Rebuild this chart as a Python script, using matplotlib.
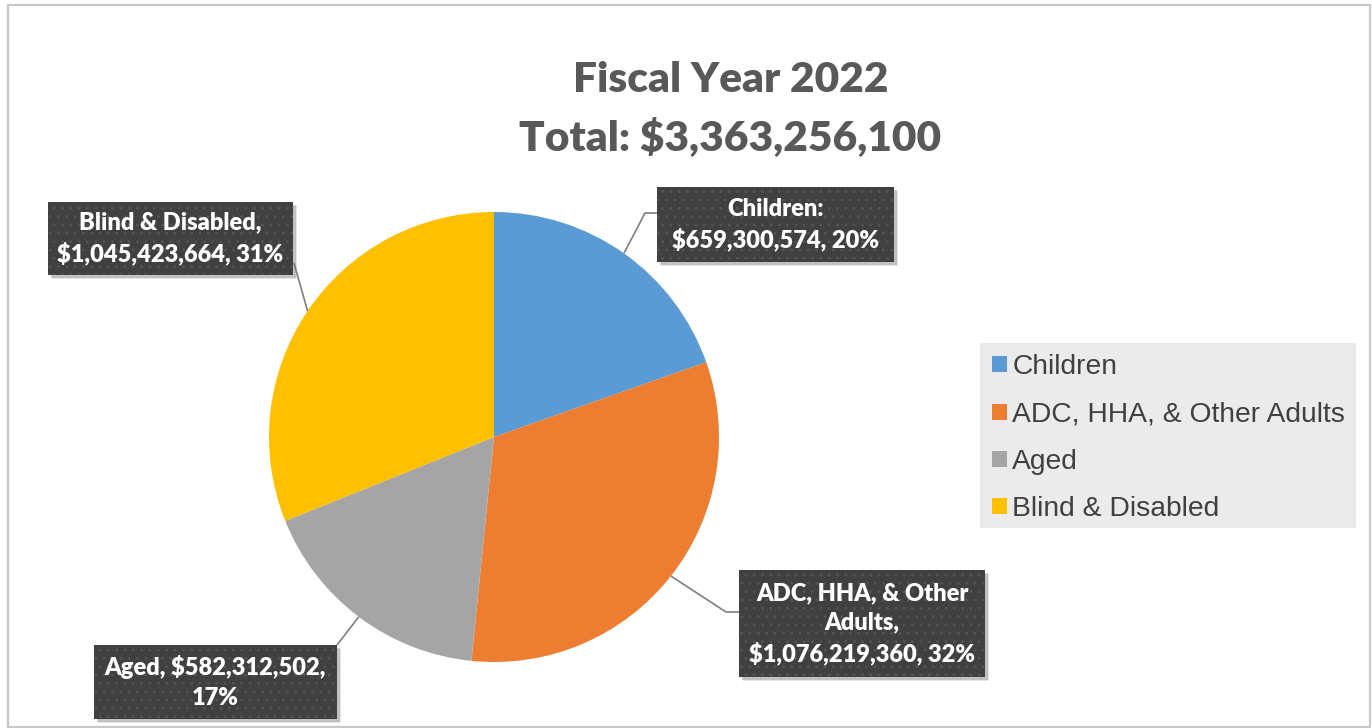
import numpy as np
import matplotlib.pyplot as plt
from matplotlib.patches import Rectangle, Patch

# ---- data ----
categories = ["Children", "ADC, HHA, & Other Adults", "Aged", "Blind & Disabled"]
amounts = [659300574, 1076219360, 582312502, 1045423664]
colors = ["#5b9bd5", "#ed7d31", "#a5a5a5", "#ffc000"]
label_texts = [
    "Children:\n$659,300,574, 20%",
    "ADC, HHA, & Other\nAdults,\n$1,076,219,360, 32%",
    "Aged, $582,312,502,\n17%",
    "Blind & Disabled,\n$1,045,423,664, 31%",
]

# ---- layout (pixel coords, y from top) ----
W, H = 1372, 728
CX, CY, R = 494, 437, 225
# label boxes: x0, y0, width, height
boxes = [(657, 187, 237, 75), (739, 570, 246, 107), (94, 645, 243, 74), (48, 202, 245, 73)]
# extra bend points of the leader lines, ending on the box
bends = [[(645, 213), (657, 213)], [(726, 612), (739, 612)], [(337, 645)], [(294, 263)]]

TITLE_FONT = ["Lato", "DejaVu Sans"]
plt.rcParams["hatch.linewidth"] = 0.8


def Y(py):
    return H - py


fig = plt.figure(figsize=(W / 100, H / 100), dpi=100)
ax = fig.add_axes([0, 0, 1, 1])

wedges, _ = ax.pie(amounts, colors=colors, startangle=90, counterclock=False,
                   center=(CX, Y(CY)), radius=R, wedgeprops={"linewidth": 0})
ax.set_xlim(0, W)
ax.set_ylim(0, H)
ax.set_aspect("equal")
ax.axis("off")

# outer chart border
ax.add_patch(Rectangle((8, Y(727)), 1362, 722, fill=False, edgecolor="#c8c8c8", lw=1.6))

# title
total = sum(amounts)
ax.text(731, Y(80), "Fiscal Year 2022", ha="center", va="center", fontsize=30.5,
        fontweight="heavy", color="#595959", family=TITLE_FONT)
ax.text(730, Y(138), f"Total: ${total:,}", ha="center", va="center", fontsize=30.5,
        fontweight="heavy", color="#595959", family=TITLE_FONT)

# data labels with leader lines
for w, txt, (bx, by, bw, bh), pts in zip(wedges, label_texts, boxes, bends):
    mid = np.deg2rad((w.theta1 + w.theta2) / 2)
    x0 = CX + R * np.cos(mid)
    y0 = Y(CY) + R * np.sin(mid)
    xs = [x0] + [p[0] for p in pts]
    ys = [y0] + [Y(p[1]) for p in pts]
    ax.plot(xs, ys, color="#7f7f7f", lw=1.2, solid_capstyle="butt", zorder=2)

    # soft shadow below-right
    for off, a in [(4, 0.18), (2.5, 0.3)]:
        ax.add_patch(Rectangle((bx + off, Y(by + bh) - off), bw, bh, facecolor="#707070",
                               edgecolor="none", alpha=a, zorder=2.5))
    ax.add_patch(Rectangle((bx, Y(by + bh)), bw, bh, facecolor="#404040",
                           edgecolor="#555555", hatch="..", lw=0, zorder=3))
    ax.text(bx + bw / 2, Y(by + bh / 2), txt, ha="center", va="center", fontsize=17,
            fontweight="heavy", color="white", family=TITLE_FONT, linespacing=1.4, zorder=4)

# legend
ax.add_patch(Rectangle((980, Y(528)), 376, 185, facecolor="#ebebeb", edgecolor="none", zorder=1))
handles = [Patch(facecolor=c, edgecolor="none") for c in colors]
leg = ax.legend(handles, categories, loc="upper left", bbox_to_anchor=(984 / W, 1 - 346 / H),
                bbox_transform=fig.transFigure, borderaxespad=0, frameon=False,
                prop={"family": "Liberation Sans", "size": 20.3}, labelcolor="#404040",
                handlelength=0.5, handleheight=0.5, handletextpad=0.2,
                labelspacing=0.75, borderpad=0.3)

fig.savefig("out.png", dpi=100)
